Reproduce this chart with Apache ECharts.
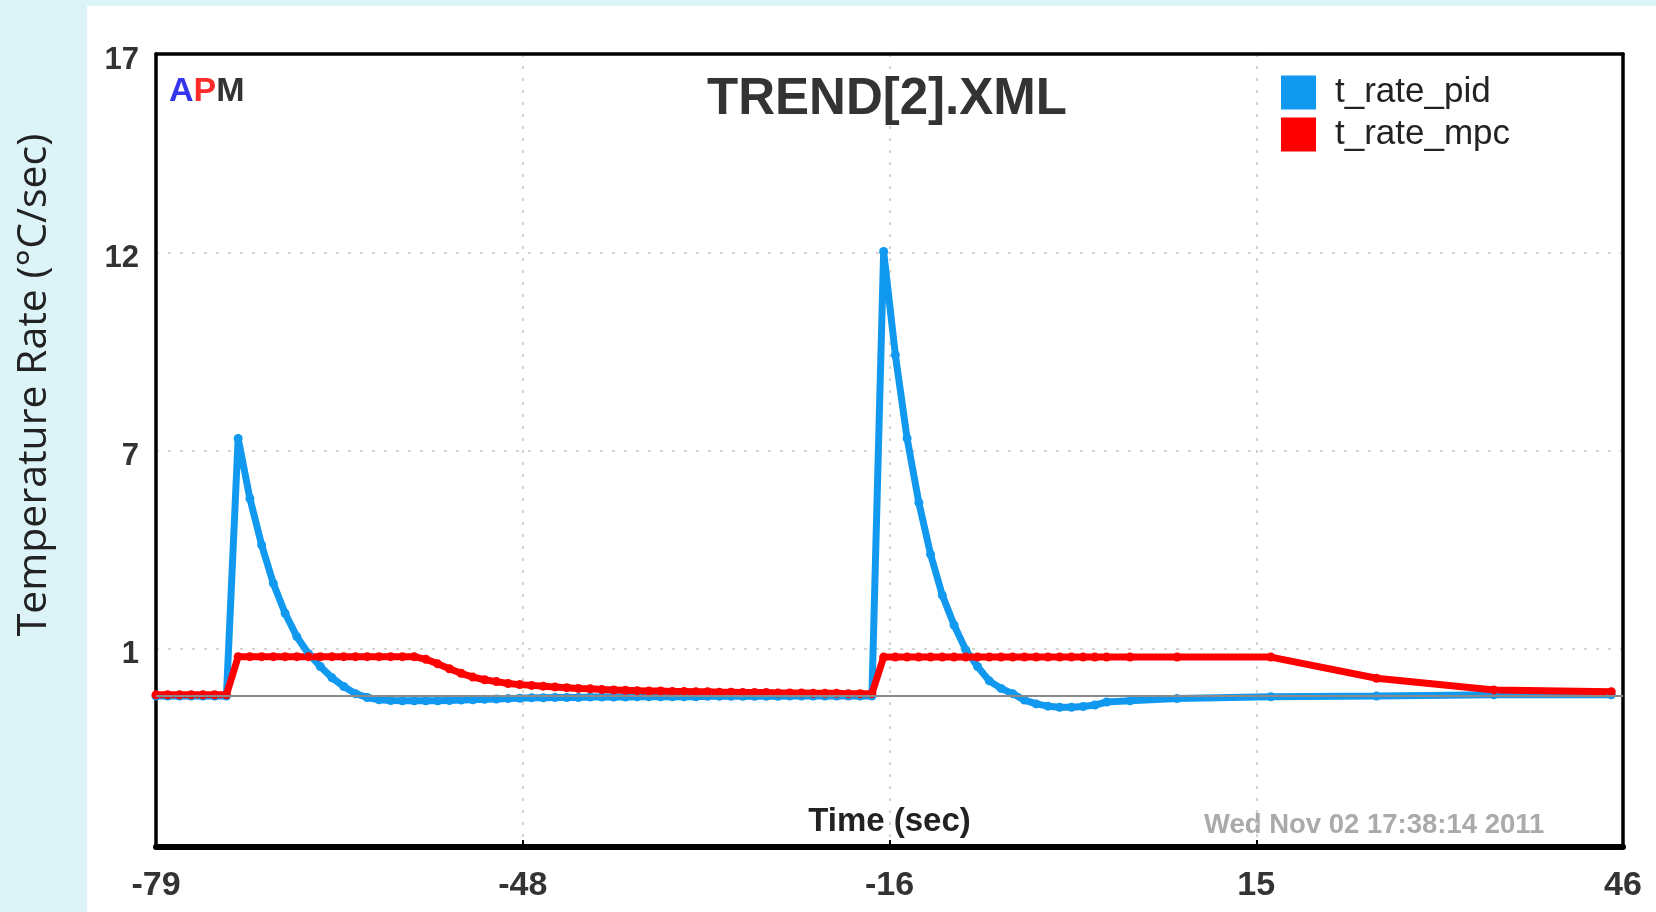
<!DOCTYPE html>
<html>
	<head>
		<meta charset="utf-8" />
		<title>TREND[2].XML</title>
		<script type="text/javascript" src="https://cdn.jsdelivr.net/npm/echarts@6/dist/echarts.min.js"></script>
		<style>
			html, body { margin: 0; padding: 0; background: #dcf3f8; }
			#panel { position: absolute; left: 87px; top: 6px; right: 0; bottom: 0; background: #fff; }
			#main { position: absolute; left: 0; top: 0; width: 1656px; height: 912px; }
		</style>
	</head>
	<body>
		<div id="panel"></div>
		<div id="main"></div>
		<script>
			// sample times (sec) and the two rates (°C/sec)
			var times = [
				-79, -78, -77, -76, -75, -74, -73, -72, -71, -70,
				-69, -68, -67, -66, -65, -64, -63, -62, -61, -60,
				-59, -58, -57, -56, -55, -54, -53, -52, -51, -50,
				-49, -48, -47, -46, -45, -44, -43, -42, -41, -40,
				-39, -38, -37, -36, -35, -34, -33, -32, -31, -30,
				-29, -28, -27, -26, -25, -24, -23, -22, -21, -20,
				-19, -18, -17, -16, -15, -14, -13, -12, -11, -10,
				-9, -8, -7, -6, -5, -4, -3, -2, -1, 0,
				1, 2, 4, 8, 16, 25, 35, 45
			];
			var ratePid = [
				0, 0, 0, 0, 0, 0, 0, 6.82, 5.23, 4.0,
				2.98, 2.19, 1.57, 1.12, 0.78, 0.48, 0.25, 0.06, -0.04, -0.1,
				-0.12, -0.13, -0.13, -0.13, -0.13, -0.12, -0.11, -0.1, -0.09, -0.08,
				-0.07, -0.06, -0.05, -0.05, -0.04, -0.04, -0.04, -0.03, -0.03, -0.03,
				-0.03, -0.02, -0.02, -0.02, -0.02, -0.02, -0.02, -0.01, -0.01, -0.01,
				-0.01, -0.01, -0.01, -0.01, 0, 0, 0, 0, 0, 0,
				0, 0, 11.77, 9.03, 6.82, 5.12, 3.75, 2.67, 1.88, 1.22,
				0.78, 0.4, 0.2, 0.06, -0.11, -0.21, -0.27, -0.3, -0.3, -0.28,
				-0.24, -0.16, -0.13, -0.07, -0.02, 0.0, 0.03, 0.03
			];
			var rateMpc = [
				0.03, 0.03, 0.03, 0.03, 0.03, 0.03, 0.03, 1.04, 1.04, 1.04,
				1.04, 1.04, 1.04, 1.04, 1.04, 1.04, 1.04, 1.04, 1.04, 1.04,
				1.04, 1.04, 1.04, 0.97, 0.85, 0.72, 0.6, 0.5, 0.43, 0.38,
				0.33, 0.3, 0.28, 0.26, 0.24, 0.22, 0.2, 0.19, 0.17, 0.16,
				0.15, 0.14, 0.13, 0.13, 0.12, 0.12, 0.11, 0.11, 0.1, 0.1,
				0.09, 0.09, 0.09, 0.08, 0.08, 0.08, 0.07, 0.07, 0.07, 0.06,
				0.06, 0.06, 1.03, 1.03, 1.03, 1.03, 1.03, 1.03, 1.03, 1.03,
				1.03, 1.03, 1.03, 1.03, 1.03, 1.03, 1.03, 1.03, 1.03, 1.03,
				1.03, 1.03, 1.03, 1.03, 1.03, 0.47, 0.16, 0.11
			];
			var seriesNames = ['t_rate_pid', 't_rate_mpc'];
			var seriesColors = ['#1199f0', '#ff0000'];

			function pairs(vals) {
				var out = [];
				for (var i = 0; i < times.length; i++) {
					out.push([times[i], vals[i]]);
				}
				return out;
			}

			var myChart = echarts.init(document.getElementById('main'));
			var boldFont = '"Liberation Sans", Arial, sans-serif';
			var dotted = { color: '#d4d4d4', width: 2, type: [3, 9] };
			var frame = { onZero: false, lineStyle: { color: '#000', width: 3.5 } };
			var option = {
				animation: false,
				backgroundColor: 'transparent',
				title: [{
					text: 'TREND[2].XML',
					left: 882,
					top: 69,
					textAlign: 'center',
					textStyle: {
						fontFamily: boldFont,
						fontWeight: 'bold',
						fontSize: 51,
						color: '#333'
					}
				}, {
					text: '{a|A}{p|P}{m|M}',
					left: 164,
					top: 70,
					textStyle: {
						rich: {
							a: { fontFamily: boldFont, fontWeight: 'bold', fontSize: 34, color: '#3535ee' },
							p: { fontFamily: boldFont, fontWeight: 'bold', fontSize: 34, color: '#ff2b2b' },
							m: { fontFamily: boldFont, fontWeight: 'bold', fontSize: 34, color: '#333' }
						}
					}
				}],
				legend: {
					data: seriesNames,
					orient: 'vertical',
					left: 1276,
					top: 70,
					icon: 'rect',
					itemWidth: 35,
					itemHeight: 34,
					itemGap: 7,
					textStyle: {
						fontFamily: boldFont,
						fontSize: 35,
						color: '#222',
						padding: [0, 0, 0, 14]
					}
				},
				graphic: [{
					type: 'text',
					x: 34,
					y: 385,
					rotation: Math.PI / 2,
					style: {
						text: 'Temperature Rate (°C/sec)',
						fontFamily: '"Open Sans", "Noto Sans", sans-serif',
						fontSize: 41,
						fill: '#222',
						textAlign: 'center',
						textVerticalAlign: 'middle'
					}
				}, {
					type: 'text',
					left: 1204,
					top: 811,
					style: {
						text: 'Wed Nov 02 17:38:14 2011',
						fontFamily: boldFont,
						fontWeight: 'bold',
						fontSize: 27.5,
						fill: '#aaaaaa'
					}
				}],
				grid: {
					left: 156,
					right: 33,
					top: 54,
					bottom: 65
				},
				xAxis: [{
					type: 'value',
					min: -79,
					max: 46,
					interval: 31.25,
					name: 'Time (sec)',
					nameLocation: 'middle',
					nameGap: -42,
					nameTextStyle: {
						fontFamily: boldFont,
						fontWeight: 'bold',
						fontSize: 33,
						color: '#222'
					},
					axisLine: { onZero: false, lineStyle: { color: '#000', width: 6 } },
					axisTick: { inside: true, length: 7, lineStyle: { color: '#000', width: 2 } },
					axisLabel: {
						margin: 22,
						fontFamily: boldFont,
						fontWeight: 'bold',
						fontSize: 34,
						color: '#333',
						formatter: function (v) { return Math.round(v); }
					},
					splitLine: { show: true, lineStyle: dotted }
				}, {
					type: 'value',
					position: 'top',
					min: -79,
					max: 46,
					axisLine: frame,
					axisTick: { show: false },
					axisLabel: { show: false },
					splitLine: { show: false }
				}],
				yAxis: [{
					type: 'value',
					min: -4,
					max: 17,
					interval: 5.25,
					axisLine: frame,
					axisTick: { show: false },
					axisLabel: {
						margin: 17,
						showMinLabel: false,
						verticalAlign: 'top',
						lineHeight: 12,
						fontFamily: boldFont,
						fontWeight: 'bold',
						fontSize: 31,
						color: '#333',
						formatter: function (v) { return Math.round(v); }
					},
					splitLine: { show: true, lineStyle: dotted }
				}, {
					type: 'value',
					position: 'right',
					min: -4,
					max: 17,
					axisLine: frame,
					axisTick: { show: false },
					axisLabel: { show: false },
					splitLine: { show: false }
				}],
				series: [{
					name: 'zero',
					type: 'line',
					data: [],
					markLine: {
						silent: true,
						symbol: 'none',
						label: { show: false },
						lineStyle: { color: '#8a8a8a', width: 2, type: 'solid' },
						data: [{ yAxis: 0 }]
					}
				}, {
					name: seriesNames[0],
					type: 'line',
					data: pairs(ratePid),
					color: seriesColors[0],
					symbol: 'circle',
					symbolSize: 9,
					showAllSymbol: true,
					lineStyle: { width: 7, color: seriesColors[0] },
					itemStyle: { color: seriesColors[0] }
				}, {
					name: seriesNames[1],
					type: 'line',
					data: pairs(rateMpc),
					color: seriesColors[1],
					symbol: 'circle',
					symbolSize: 9,
					showAllSymbol: true,
					lineStyle: { width: 7, color: seriesColors[1] },
					itemStyle: { color: seriesColors[1] }
				}]
			};
			myChart.setOption(option);
		</script>
	</body>
</html>
